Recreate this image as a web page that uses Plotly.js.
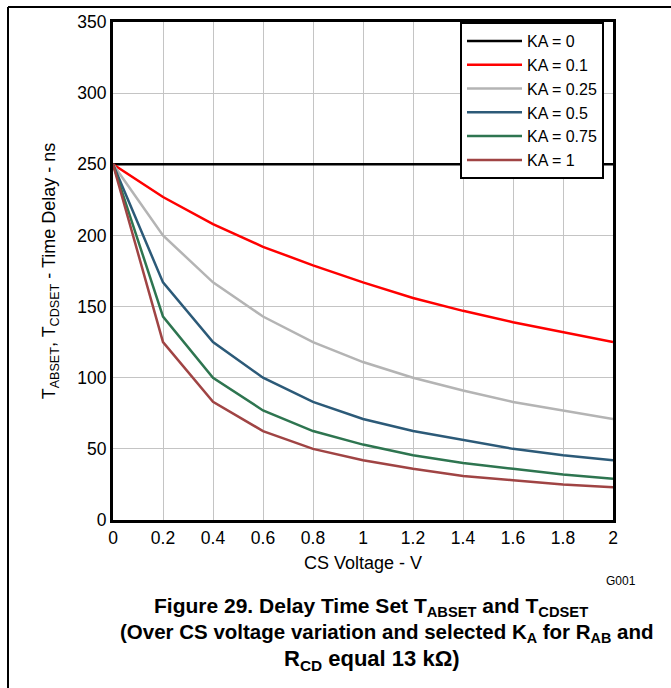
<!DOCTYPE html>
<html><head><meta charset="utf-8">
<script src="https://cdn.plot.ly/plotly-3.0.1.min.js"></script>
<style>html,body{margin:0;padding:0;background:#fff;}#chart{width:671px;height:688px;}</style>
</head><body><div id="chart"></div>
<script>
const voltage = [0, 0.2, 0.4, 0.6, 0.8, 1.0, 1.2, 1.4, 1.6, 1.8, 2.0];
const ka0   = [250, 250, 250, 250, 250, 250, 250, 250, 250, 250, 250];
const ka01  = [250, 227, 208, 192, 179, 167, 156, 147, 139, 132, 125];
const ka025 = [250, 200, 167, 143, 125, 111, 100, 91, 83, 77, 71];
const ka05  = [250, 167, 125, 100, 83, 71, 62.5, 56, 50, 45.5, 42];
const ka075 = [250, 143, 100, 77, 62.5, 53, 45.5, 40, 36, 32, 29];
const ka1   = [250, 125, 83, 62.5, 50, 42, 36, 31, 28, 25, 23];
const seriesNames = ["KA = 0", "KA = 0.1", "KA = 0.25", "KA = 0.5", "KA = 0.75", "KA = 1"];
const seriesValues = [ka0, ka01, ka025, ka05, ka075, ka1];
const seriesColors = ["#000000", "#ff0000", "#b4b4b4", "#2c5a78", "#2e7550", "#a04444"];
const xTicks = [0, 0.2, 0.4, 0.6, 0.8, 1, 1.2, 1.4, 1.6, 1.8, 2];
const xTickText = ["0", "0.2", "0.4", "0.6", "0.8", "1", "1.2", "1.4", "1.6", "1.8", "2"];

const traces = seriesValues.map((v, i) => ({
  x: voltage, y: v, name: seriesNames[i], type: "scatter", mode: "lines",
  line: {color: seriesColors[i], width: 2.5}
}));

const F = "'Liberation Sans', Arial, sans-serif";
const layout = {
  width: 671, height: 688,
  margin: {l: 113, r: 58, t: 22, b: 168},
  paper_bgcolor: "#fff", plot_bgcolor: "#fff",
  font: {family: F, size: 17, color: "#000"},
  showlegend: true,
  legend: {
    x: 0.694, y: 1, xanchor: "left", yanchor: "top",
    bgcolor: "#fff", bordercolor: "#000", borderwidth: 2,
    font: {family: F, size: 16, color: "#000"},
    tracegroupgap: 0, itemwidth: 55
  },
  xaxis: {
    range: [0, 2], tickvals: xTicks, ticktext: xTickText,
    showgrid: true, gridcolor: "#c4c4c4", gridwidth: 1,
    showline: true, linecolor: "#000", linewidth: 3, mirror: true,
    ticks: "", zeroline: false, tickfont: {size: 17.5},
    title: {text: "CS Voltage - V", font: {size: 18}, standoff: 10}
  },
  yaxis: {
    range: [0, 350], dtick: 50,
    showgrid: true, gridcolor: "#c4c4c4", gridwidth: 1,
    showline: true, linecolor: "#000", linewidth: 3, mirror: true,
    ticks: "", zeroline: false, tickfont: {size: 17.5},
    title: {text: "T<sub>ABSET</sub>, T<sub>CDSET</sub> - Time Delay - ns", font: {size: 18}, standoff: 17}
  },
  shapes: [
    {type: "line", xref: "paper", yref: "paper", x0: -0.21, x1: 1.2, y0: 1.0301, y1: 1.0301, line: {color: "#000", width: 2}},
    {type: "line", xref: "paper", yref: "paper", x0: -0.21, x1: -0.21, y0: 1.0301, y1: -0.4, line: {color: "#000", width: 2}}
  ],
  annotations: [
    {xref: "paper", yref: "paper", x: (621-113)/500, y: (520-581)/498, text: "G001", showarrow: false, font: {size: 12}, xanchor: "center", yanchor: "middle"},
    {xref: "paper", yref: "paper", x: (371-113)/500, y: (520-607)/498, text: "<b>Figure 29. Delay Time Set T<sub>ABSET</sub> and T<sub>CDSET</sub></b>", showarrow: false, font: {size: 21}, xanchor: "center", yanchor: "middle"},
    {xref: "paper", yref: "paper", x: (386-113)/500, y: (520-633)/498, text: "<b>(Over CS voltage variation and selected K<sub>A</sub> for R<sub>AB</sub> and</b>", showarrow: false, font: {size: 20.5}, xanchor: "center", yanchor: "middle"},
    {xref: "paper", yref: "paper", x: (372-113)/500, y: (520-660)/498, text: "<b>R<sub>CD</sub> equal 13 kΩ)</b>", showarrow: false, font: {size: 22}, xanchor: "center", yanchor: "middle"}
  ]
};
Plotly.newPlot("chart", traces, layout, {displayModeBar: false, staticPlot: true});
</script></body></html>
